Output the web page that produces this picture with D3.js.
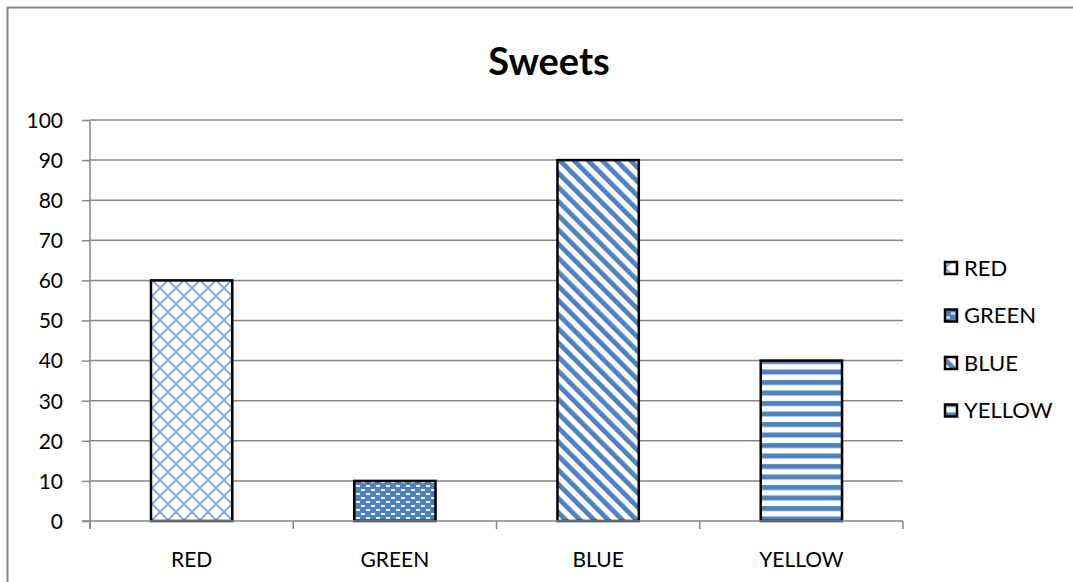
<!DOCTYPE html>
<head>
  <meta charset="utf-8">
  <script src="https://d3js.org/d3.v7.min.js"></script>
  <style>
    body { margin: 0; background: #fff; }
    svg { display: block; font-family: Lato, "Open Sans", sans-serif; }
  </style>
</head>
<body>
  <svg width="1073" height="582"></svg>
  <script>
    // data
    var categories = ["RED", "GREEN", "BLUE", "YELLOW"];
    var values = [60, 10, 90, 40];
    var yTicks = [0, 10, 20, 30, 40, 50, 60, 70, 80, 90, 100];
    var title = "Sweets";

    var blue = "#4F81BD";
    var gridColor = "#868686";
    var plot = { left: 90, right: 903, top: 120, bottom: 521 };

    var svg = d3.select("svg");

    // patterns
    var defs = svg.append("defs");
    var p1 = defs.append("pattern").attr("id", "pat-red")
      .attr("patternUnits", "userSpaceOnUse").attr("width", 16).attr("height", 16);
    p1.append("rect").attr("width", 16).attr("height", 16).attr("fill", "#fff");
    p1.append("path").attr("d", "M0,0L16,16M16,0L0,16M-2,14L2,18M14,-2L18,2M-2,2L2,-2M14,18L18,14")
      .attr("stroke", "#86AADB").attr("stroke-width", 2).attr("fill", "none");

    var p2 = defs.append("pattern").attr("id", "pat-green")
      .attr("patternUnits", "userSpaceOnUse").attr("width", 10).attr("height", 8);
    p2.append("rect").attr("width", 10).attr("height", 8).attr("fill", blue);
    p2.append("rect").attr("x", 1).attr("y", 1).attr("width", 4).attr("height", 2).attr("fill", "#EEF3FA");
    p2.append("rect").attr("x", 6).attr("y", 5).attr("width", 4).attr("height", 2).attr("fill", "#EEF3FA");

    var p3 = defs.append("pattern").attr("id", "pat-blue")
      .attr("patternUnits", "userSpaceOnUse").attr("width", 10).attr("height", 10)
      .attr("patternTransform", "rotate(-45)");
    p3.append("rect").attr("width", 10).attr("height", 10).attr("fill", "#fff");
    p3.append("rect").attr("width", 4.8).attr("height", 10).attr("fill", blue);

    var p4 = defs.append("pattern").attr("id", "pat-yellow")
      .attr("patternUnits", "userSpaceOnUse").attr("width", 10).attr("height", 10.5);
    p4.append("rect").attr("width", 10).attr("height", 10.5).attr("fill", "#fff");
    p4.append("rect").attr("y", 2).attr("width", 10).attr("height", 5).attr("fill", blue);

    var fills = ["url(#pat-red)", "url(#pat-green)", "url(#pat-blue)", "url(#pat-yellow)"];

    // outer frame
    svg.append("path")
      .attr("d", "M7.5,582V7.5H1073")
      .attr("stroke", gridColor).attr("stroke-width", 2).attr("fill", "none");

    // title
    svg.append("text")
      .attr("x", 549).attr("y", 75)
      .attr("text-anchor", "middle")
      .attr("font-size", 38).attr("font-weight", "bold")
      .text(title);

    // scales
    var x = d3.scaleBand().domain(categories)
      .range([plot.left, plot.right]).paddingInner(0.6).paddingOuter(0.3);
    var y = d3.scaleLinear().domain([0, 100]).range([plot.bottom, plot.top]);

    // gridlines
    svg.append("g").selectAll("line").data(yTicks.slice(1)).enter().append("line")
      .attr("x1", plot.left).attr("x2", plot.right)
      .attr("y1", function(d) { return y(d); }).attr("y2", function(d) { return y(d); })
      .attr("stroke", gridColor).attr("stroke-width", 1.5);

    // y axis
    var yAxis = d3.axisLeft(y).tickValues(yTicks).tickSize(8).tickPadding(19);
    var gy = svg.append("g").attr("transform", "translate(" + plot.left + ",0)").call(yAxis);
    gy.select(".domain").attr("stroke", gridColor).attr("stroke-width", 1.5).attr("d", "M0," + plot.top + "V" + (plot.bottom + 8));
    gy.selectAll(".tick line").attr("stroke", gridColor).attr("stroke-width", 1.5);
    gy.selectAll(".tick text").attr("font-size", 21).attr("fill", "#000")
      .attr("font-family", "Lato, sans-serif").attr("dy", "0.35em");

    // bars
    svg.append("g").selectAll("rect").data(values).enter().append("rect")
      .attr("x", function(d, i) { return x(categories[i]); })
      .attr("y", function(d) { return y(d); })
      .attr("width", x.bandwidth())
      .attr("height", function(d) { return y(0) - y(d); })
      .attr("fill", function(d, i) { return fills[i]; })
      .attr("stroke", "#000").attr("stroke-width", 2.5);

    // x axis
    var step = (plot.right - plot.left) / categories.length;
    var gx = svg.append("g").attr("transform", "translate(0," + plot.bottom + ")");
    gx.append("line").attr("x1", plot.left - 8).attr("x2", plot.right)
      .attr("stroke", gridColor).attr("stroke-width", 1.5);
    gx.selectAll(".xt").data(d3.range(categories.length + 1)).enter().append("line")
      .attr("x1", function(i) { return plot.left + i * step; })
      .attr("x2", function(i) { return plot.left + i * step; })
      .attr("y1", 0).attr("y2", 8)
      .attr("stroke", gridColor).attr("stroke-width", 1.5);
    gx.selectAll("text").data(categories).enter().append("text")
      .attr("x", function(d) { return x(d) + x.bandwidth() / 2; })
      .attr("y", 46)
      .attr("text-anchor", "middle").attr("font-size", 21)
      .text(function(d) { return d; });

    // legend
    var lg = svg.append("g").attr("transform", "translate(945,268)");
    var item = lg.selectAll("g").data(categories).enter().append("g")
      .attr("transform", function(d, i) { return "translate(0," + (i * 47.5) + ")"; });
    item.append("rect").attr("x", 0).attr("y", -6).attr("width", 12).attr("height", 12)
      .attr("fill", function(d, i) { return fills[i]; })
      .attr("stroke", "#000").attr("stroke-width", 2.5);
    item.append("text").attr("x", 19).attr("y", 0).attr("dy", "0.35em")
      .attr("font-size", 22).text(function(d) { return d; });
  </script>
</body>
